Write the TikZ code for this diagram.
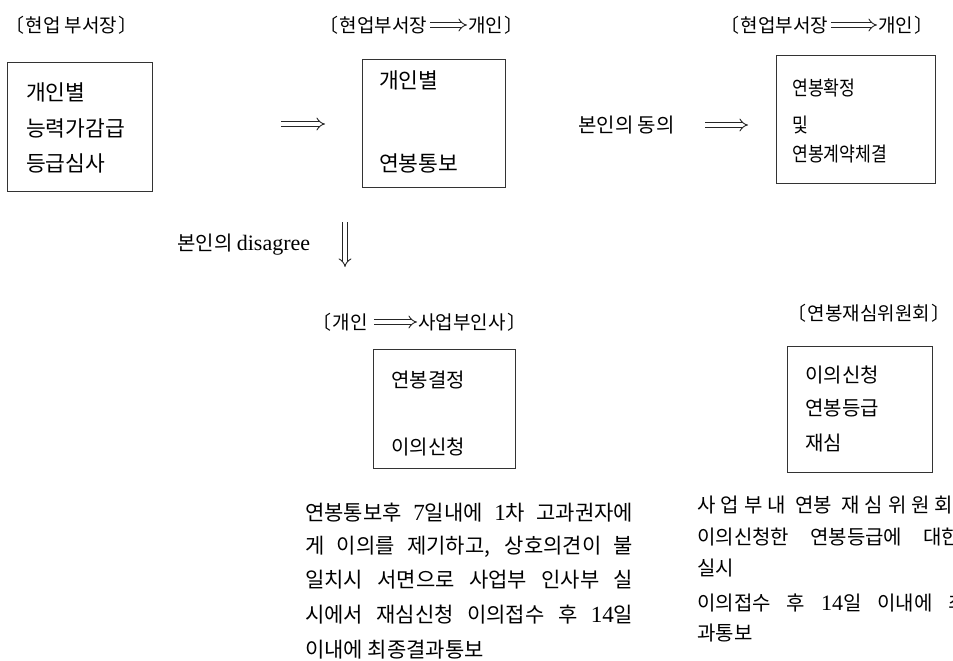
\documentclass[tikz,border=0pt]{standalone}
\usepackage{fontspec}
\usepackage{graphicx}
\setmainfont{Noto Sans CJK KR}
\newfontfamily\lat[Scale=1.1]{Liberation Serif}
\usetikzlibrary{arrows.meta}
\newcommand{\lbk}{\kern-0.42em〔\kern0.08em}
\newcommand{\rbk}{\kern0.08em〕\kern-0.42em}
\newcommand{\lk}{\kern5pt}
\begin{document}
\begin{tikzpicture}[x=1pt,y=-1pt,
  txt/.style={inner sep=0pt, anchor=west, font=\fontsize{20}{24}\selectfont, text=black},
  hdtxt/.style={txt, font=\fontsize{19}{23}\selectfont},
  bigtxt/.style={txt, font=\fontsize{21.5}{26}\selectfont},
  partxt/.style={txt, font=\fontsize{21}{25}\selectfont},
  boxn/.style={draw=black!80, line width=0.8pt, inner sep=0pt},
  dbl/.style={draw=black!85, double, double distance=3.6pt, line width=0.9pt, -{Implies}},
  hdbl/.style={dbl, shorten <=3pt, shorten >=1pt}]
\useasboundingbox (0,0) rectangle (953,661);
\fill[white] (0,0) rectangle (953,661);
% boxes
\node[boxn, minimum width=145pt, minimum height=129pt] (b1) at (79.5,126.5) {};
\node[boxn, minimum width=143pt, minimum height=128pt] (b2) at (433.5,123) {};
\node[boxn, minimum width=159pt, minimum height=128pt] (b3) at (855.5,119) {};
\node[boxn, minimum width=142pt, minimum height=119pt] (b4) at (444,408.5) {};
\node[boxn, minimum width=145pt, minimum height=126pt] (b5) at (859.5,409) {};
% headers
\node[hdtxt] (h1) at (13,25) {\lbk 현업 부서장\rbk};
\node[hdtxt] (h2a) at (327,25) {\lbk 현업부서장};
\node[hdtxt] (h2b) at (468,25) {개인\rbk};
\draw[hdbl] (h2a.east) -- (h2b.west);
\node[hdtxt] (h3a) at (728,25) {\lbk 현업부서장};
\node[hdtxt] (h3b) at (878,25) {개인\rbk};
\draw[hdbl] (h3a.east) -- (h3b.west);
\node[hdtxt] (h4a) at (320,322) {\lbk 개인};
\node[hdtxt] (h4b) at (418,322) {사업부인사\rbk};
\draw[hdbl, shorten <=6pt] (h4a.east) -- (h4b.west);
\node[hdtxt] (h5) at (795,313) {\lbk 연봉재심위원회\rbk};
% box texts
\node[bigtxt] (t1a) at (26,92) {개인별};
\node[bigtxt] (t1b) at (26,128) {능력가감급};
\node[bigtxt] (t1c) at (26,163) {등급심사};
\node[bigtxt] (t2a) at (379,80) {개인별};
\node[bigtxt] (t2b) at (379,163) {연봉통보};
\node[txt] (t3a) at (792,88) {\scalebox{0.86}[1]{연봉확정}};
\node[txt] (t3b) at (792,125) {\scalebox{0.86}[1]{및}};
\node[txt] (t3c) at (792,154) {\scalebox{0.86}[1]{연봉계약체결}};
\node[txt] (t4a) at (391,380) {연봉결정};
\node[txt] (t4b) at (391,447) {이의신청};
\node[txt] (t5a) at (805,375) {이의신청};
\node[txt] (t5b) at (805,408) {연봉등급};
\node[txt] (t5c) at (805,443) {재심};
% labels
\node[txt] (l1) at (578,125) {본인의 동의};
\node[txt] (l2) at (177,245) {본인의 {\lat disagree}};
% arrows
\coordinate (r1s) at (281,124);
\coordinate (r1e) at (325,124);
\coordinate (r2s) at (705,125);
\coordinate (r2e) at (748,125);
\coordinate (d1s) at (345,222);
\coordinate (d1e) at (345,267);
\draw[dbl] (r1s) -- (r1e);
\draw[dbl] (r2s) -- (r2e);
\draw[dbl] (d1s) -- (d1e);
% paragraph 1
\node[partxt] (p1a) at (305,513) {\makebox[328pt][s]{연봉통보후 {\lat 7}일내에 {\lat 1}차 고과권자에}};
\node[partxt] (p1b) at (305,547) {\makebox[328pt][s]{게 이의를 제기하고, 상호의견이 불}};
\node[partxt] (p1c) at (305,580) {\makebox[328pt][s]{일치시 서면으로 사업부 인사부 실}};
\node[partxt] (p1d) at (305,615) {\makebox[328pt][s]{시에서 재심신청 이의접수 후 {\lat 14}일}};
\node[partxt] (p1e) at (305,650) {이내에 최종결과통보};
% paragraph 2
\node[txt] (p2a) at (697,505) {\makebox[256pt][s]{사\lk 업\lk 부\lk 내 연봉 재\lk 심\lk 위\lk 원\lk 회}};
\node[txt] (p2b) at (697,537) {\makebox[263pt][s]{이의신청한 연봉등급에 대한}};
\node[txt] (p2c) at (697,568) {실시};
\node[txt] (p2d) at (697,603) {\makebox[270pt][s]{이의접수 후 {\lat 14}일 이내에 최}};
\node[txt] (p2e) at (697,633) {과통보};
\end{tikzpicture}
\end{document}
